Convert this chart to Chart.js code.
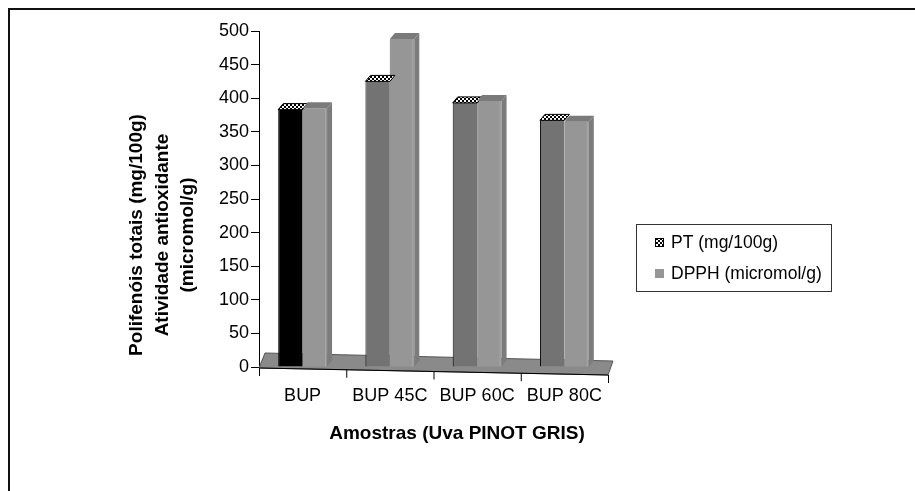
<!DOCTYPE html>
<html>
<head>
<meta charset="utf-8">
<script src="https://cdn.jsdelivr.net/npm/chart.js@4.4.1/dist/chart.umd.min.js"></script>
<style>
    html, body { margin: 0; padding: 0; background: #fff; }
    #wrap { position: relative; width: 915px; height: 491px; }
</style>
</head>
<body>
<div id="wrap"><canvas id="chart" width="915" height="491"></canvas></div>
<script>
const categories = ['BUP', 'BUP 45C', 'BUP 60C', 'BUP 80C'];
const ptValues = [383, 425, 393, 367];
const dpphValues = [385, 488, 396, 365];
const seriesNames = ['PT (mg/100g)', 'DPPH (micromol/g)'];
const yTitleLines = ['Polifenóis totais (mg/100g)', 'Atividade antioxidante', '(micromol/g)'];
const xTitle = 'Amostras (Uva PINOT GRIS)';

const FONT = 'Arial, "Liberation Sans", sans-serif';
const ptColors = ['#000000', '#737373', '#737373', '#737373'];
const dpphColor = '#969696';

// small black/white checker used for the PT top faces and legend
function makeChecker() {
    const c = document.createElement('canvas');
    c.width = 4; c.height = 4;
    const g = c.getContext('2d');
    g.fillStyle = '#000'; g.fillRect(0, 0, 4, 4);
    g.fillStyle = '#fff';
    g.fillRect(0, 0, 2, 2);
    g.fillRect(2, 2, 2, 2);
    return c;
}
const checker = makeChecker();

// floor, slanted axis line and tick marks
const floorPlugin = {
    id: 'floor',
    beforeDatasetsDraw(chart) {
        const ctx = chart.ctx;
        const a = chart.chartArea;
        const x = chart.scales.x;
        const slope = 7 / (a.right - a.left);
        const yAt = (px) => a.bottom + 1 + (px - a.left) * slope;

        ctx.save();
        ctx.fillStyle = '#8a8a8a';
        ctx.beginPath();
        ctx.moveTo(a.left, yAt(a.left));
        ctx.lineTo(a.left + 6, yAt(a.left) - 15);
        ctx.lineTo(a.right + 5, yAt(a.right) - 14);
        ctx.lineTo(a.right, yAt(a.right));
        ctx.closePath();
        ctx.fill();
        ctx.strokeStyle = '#555';
        ctx.lineWidth = 1;
        ctx.stroke();

        // axis line along the floor edge
        ctx.strokeStyle = '#000';
        ctx.beginPath();
        ctx.moveTo(a.left, yAt(a.left));
        ctx.lineTo(a.right, yAt(a.right));
        ctx.stroke();

        // tick marks at category boundaries
        const n = categories.length;
        const step = x.getPixelForValue(1) - x.getPixelForValue(0);
        for (let i = 0; i <= n; i++) {
            const px = i < n ? x.getPixelForValue(i) - step / 2 : a.right;
            ctx.beginPath();
            ctx.moveTo(px + 0.5, yAt(px));
            ctx.lineTo(px + 0.5, yAt(px) + 8);
            ctx.stroke();
        }
        ctx.restore();
    }
};

// fake 3d: top faces and side faces on every bar
const bar3dPlugin = {
    id: 'bar3d',
    afterDatasetsDraw(chart) {
        const ctx = chart.ctx;
        const dx = 5, dy = -6;
        ctx.save();
        for (let d = 0; d < chart.data.datasets.length; d++) {
            const meta = chart.getDatasetMeta(d);
            meta.data.forEach((bar) => {
                const left = bar.x - bar.width / 2;
                const right = bar.x + bar.width / 2;
                const top = bar.y;
                const base = bar.base;

                if (d === 1) {
                    // side face
                    ctx.fillStyle = '#7c7c7c';
                    ctx.beginPath();
                    ctx.moveTo(right, top);
                    ctx.lineTo(right + dx, top + dy);
                    ctx.lineTo(right + dx, base + dy);
                    ctx.lineTo(right, base);
                    ctx.closePath();
                    ctx.fill();
                    ctx.strokeStyle = '#a8a8a8';
                    ctx.beginPath();
                    ctx.moveTo(right - 1.5, top);
                    ctx.lineTo(right - 1.5, base);
                    ctx.stroke();
                }

                // top face
                ctx.beginPath();
                ctx.moveTo(left, top);
                ctx.lineTo(left + dx, top + dy);
                ctx.lineTo(right + dx, top + dy);
                ctx.lineTo(right, top);
                ctx.closePath();
                if (d === 0) {
                    ctx.fillStyle = ctx.createPattern(checker, 'repeat');
                    ctx.fill();
                    ctx.strokeStyle = '#000';
                    ctx.lineWidth = 1;
                    ctx.stroke();
                } else {
                    ctx.fillStyle = '#7a7a7a';
                    ctx.fill();
                }
            });
        }
        ctx.restore();
    }
};

// axis titles, legend box and outer frame
const decorPlugin = {
    id: 'decor',
    afterDraw(chart) {
        const ctx = chart.ctx;
        ctx.save();

        // frame (only top and left edges visible)
        ctx.strokeStyle = '#111';
        ctx.lineWidth = 2;
        ctx.beginPath();
        ctx.moveTo(9, 491);
        ctx.lineTo(9, 9);
        ctx.lineTo(915, 9);
        ctx.stroke();

        // y title
        ctx.fillStyle = '#000';
        ctx.font = 'bold 19px ' + FONT;
        ctx.textAlign = 'center';
        ctx.textBaseline = 'middle';
        const xs = [137, 163, 188];
        yTitleLines.forEach((line, i) => {
            ctx.save();
            ctx.translate(xs[i], 235);
            ctx.rotate(-Math.PI / 2);
            ctx.fillText(line, 0, 0);
            ctx.restore();
        });

        // x title
        ctx.fillText(xTitle, 457, 434);

        // legend
        ctx.lineWidth = 1;
        ctx.strokeStyle = '#333';
        ctx.strokeRect(636.5, 224.5, 195, 67);
        ctx.font = '17.5px ' + FONT;
        ctx.textAlign = 'left';
        ctx.fillStyle = ctx.createPattern(checker, 'repeat');
        ctx.fillRect(655, 238, 9, 9);
        ctx.strokeStyle = '#000';
        ctx.strokeRect(655.5, 238.5, 8, 8);
        ctx.fillStyle = dpphColor;
        ctx.fillRect(655, 269, 9, 9);
        ctx.fillStyle = '#000';
        ctx.fillText(seriesNames[0], 671, 243);
        ctx.fillText(seriesNames[1], 671, 274);

        ctx.restore();
    }
};

const ctx = document.getElementById('chart');
new Chart(ctx, {
    type: 'bar',
    data: {
        labels: categories,
        datasets: [{
            label: seriesNames[0],
            data: ptValues,
            backgroundColor: ptColors,
            borderColor: '#000',
            borderWidth: { left: 1, top: 0, right: 0, bottom: 1 },
            categoryPercentage: 0.56,
            barPercentage: 1
        }, {
            label: seriesNames[1],
            data: dpphValues,
            backgroundColor: dpphColor,
            borderWidth: 0,
            categoryPercentage: 0.56,
            barPercentage: 1
        }]
    },
    options: {
        responsive: false,
        animation: false,
        layout: { padding: { left: 0, right: 307, top: 31, bottom: 0 } },
        scales: {
            x: {
                grid: { display: false, drawTicks: false },
                border: { display: false },
                ticks: {
                    color: '#000',
                    font: { family: FONT, size: 18 },
                    padding: 18,
                    maxRotation: 0
                },
                afterFit: (s) => { s.height = 124; }
            },
            y: {
                min: 0,
                max: 500,
                grid: { drawOnChartArea: false, tickLength: 8, color: '#000' },
                border: { display: true, color: '#000', width: 1 },
                ticks: {
                    stepSize: 50,
                    color: '#000',
                    padding: 2,
                    font: { family: FONT, size: 18 }
                },
                afterFit: (s) => { s.width = 259; }
            }
        },
        plugins: {
            legend: { display: false },
            tooltip: { enabled: false }
        }
    },
    plugins: [floorPlugin, bar3dPlugin, decorPlugin]
});
</script>
</body>
</html>
